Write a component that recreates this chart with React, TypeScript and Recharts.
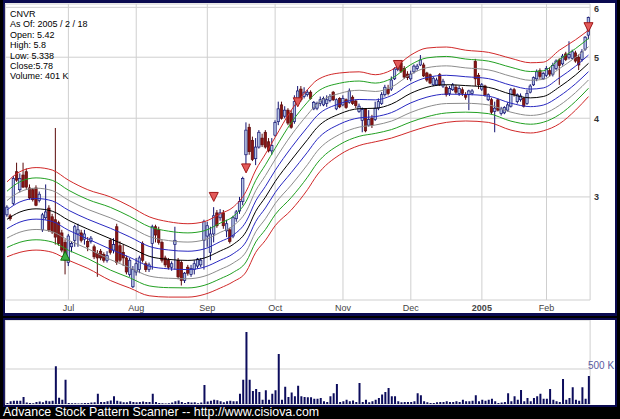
import React from 'react';
import { ComposedChart, BarChart, Bar, Line, XAxis, YAxis, CartesianGrid } from 'recharts';

// ---------- categories ----------
const HOLIDAYS = ['2004-06-11', '2004-07-05', '2004-09-06', '2004-11-25', '2004-12-24', '2005-01-17'];
function tradingDays(): string[] {
  const out: string[] = [];
  for (let t = Date.UTC(2004, 5, 3); t <= Date.UTC(2005, 1, 18); t += 86400000) {
    const d = new Date(t);
    const wd = d.getUTCDay();
    const s = d.toISOString().slice(0, 10);
    if (wd !== 0 && wd !== 6 && HOLIDAYS.indexOf(s) < 0) out.push(s);
  }
  return out;
}
const dates = tradingDays();

const monthTicks = ['2004-07-01', '2004-08-02', '2004-09-01', '2004-10-01', '2004-11-01', '2004-12-01', '2005-01-03', '2005-02-01'];
const monthLabels = ['Jul', 'Aug', 'Sep', 'Oct', 'Nov', 'Dec', '2005', 'Feb'];
const priceTicks = [3, 4, 5, 6];
const volumeTicks = [500];

// ---------- series ----------
const opens = [2.81,2.80,2.93,3.29,3.08,3.25,3.29,3.10,3.08,3.10,2.96,2.66,2.78,2.88,2.79,2.76,2.73,2.63,2.54,2.36,
2.50,2.56,2.62,2.63,2.57,2.55,2.55,2.50,2.44,2.46,2.43,2.38,2.56,2.47,2.69,2.51,2.45,2.40,2.26,2.16,
2.28,2.30,2.53,2.35,2.30,2.53,2.69,2.66,2.54,2.40,2.38,2.32,2.52,2.38,2.36,2.21,2.32,2.26,2.30,2.33,
2.34,2.56,2.60,2.45,2.62,2.83,2.78,2.83,2.65,2.66,2.60,2.77,2.85,2.95,3.50,3.87,3.69,3.45,3.60,3.72,
3.80,3.67,3.55,3.76,3.95,4.20,4.03,4.12,4.07,3.95,4.30,4.45,4.33,4.36,4.40,4.14,4.15,4.22,4.20,4.22,
4.27,4.40,4.14,4.30,4.20,4.28,4.24,4.32,4.26,4.10,3.97,4.13,3.90,4.00,3.98,4.15,4.22,4.36,4.45,4.45,
4.62,4.78,4.90,4.80,4.70,4.62,4.74,4.80,4.86,4.86,4.72,4.69,4.52,4.52,4.69,4.50,4.48,4.38,4.44,4.48,
4.38,4.44,4.36,4.36,4.38,4.92,4.68,4.45,4.50,4.28,4.28,4.10,4.28,4.07,4.08,4.12,4.18,4.44,4.25,4.28,
4.30,4.22,4.40,4.52,4.62,4.76,4.62,4.68,4.76,4.70,4.80,4.95,4.88,5.06,5.00,4.98,5.08,5.00,4.96,5.15,
5.42];
const highs = [2.91,2.82,3.24,3.40,3.27,3.40,3.33,3.14,3.10,3.13,3.06,2.83,3.14,2.91,2.82,3.86,2.75,2.66,2.57,2.62,
2.55,2.71,2.72,2.66,2.66,2.59,2.60,2.52,2.47,2.48,2.45,2.46,2.58,2.58,2.72,2.55,2.52,2.42,2.40,2.33,
2.40,2.42,2.55,2.37,2.36,2.71,2.71,2.69,2.56,2.42,2.40,2.37,2.69,2.40,2.38,2.28,2.34,2.34,2.38,2.40,
2.40,2.76,2.74,2.69,2.89,2.86,2.87,2.86,2.76,2.68,2.80,2.86,3.00,3.23,3.94,3.92,3.74,3.72,3.83,3.78,
3.83,3.72,3.72,3.97,4.25,4.25,4.18,4.15,4.12,4.35,4.50,4.50,4.48,4.44,4.43,4.26,4.25,4.33,4.33,4.35,
4.37,4.42,4.30,4.32,4.35,4.30,4.46,4.35,4.28,4.22,4.16,4.15,4.12,4.05,4.25,4.30,4.40,4.52,4.52,4.66,
4.82,4.93,4.95,4.84,4.75,4.76,4.87,4.88,5.04,4.90,4.74,4.71,4.66,4.64,4.72,4.62,4.52,4.50,4.55,4.52,
4.50,4.48,4.40,4.44,4.45,4.97,4.72,4.55,4.52,4.38,4.31,4.25,4.30,4.17,4.18,4.24,4.47,4.47,4.38,4.38,
4.32,4.44,4.53,4.66,4.78,4.80,4.74,4.84,4.82,4.90,4.96,4.98,5.06,5.10,5.30,5.14,5.12,5.05,5.15,5.40,
5.8];
const lows = [2.79,2.75,2.91,3.17,3.05,3.10,3.09,2.97,2.95,2.90,2.94,2.64,2.76,2.64,2.62,2.52,2.51,2.45,2.26,2.33,
2.45,2.50,2.50,2.54,2.52,2.46,2.53,2.39,2.24,2.38,2.36,2.36,2.43,2.44,2.34,2.36,2.33,2.26,2.24,2.15,
2.25,2.27,2.36,2.28,2.28,2.30,2.54,2.52,2.36,2.32,2.30,2.29,2.30,2.22,2.17,2.19,2.25,2.24,2.26,2.31,
2.32,2.30,2.50,2.38,2.54,2.68,2.75,2.67,2.59,2.53,2.58,2.74,2.82,2.91,3.37,3.50,3.42,3.37,3.58,3.60,
3.58,3.53,3.50,3.74,3.90,3.98,4.00,3.90,3.85,3.92,4.28,4.25,4.30,4.33,4.28,4.12,4.12,4.18,4.18,4.17,
4.24,4.26,4.12,4.15,4.18,4.14,4.22,4.20,4.15,4.08,3.80,3.80,3.88,3.86,3.96,4.12,4.20,4.33,4.35,4.42,
4.60,4.75,4.72,4.62,4.60,4.58,4.71,4.76,4.84,4.65,4.57,4.53,4.50,4.50,4.50,4.47,4.33,4.34,4.42,4.37,
4.34,4.34,4.28,4.12,4.35,4.50,4.45,4.42,4.33,4.26,4.06,3.80,4.10,4.04,4.06,4.10,4.16,4.33,4.22,4.25,
4.16,4.20,4.38,4.50,4.58,4.62,4.60,4.65,4.66,4.66,4.77,4.52,4.85,4.93,4.96,4.96,4.90,4.77,4.92,5.12,
5.338];
const closes = [2.89,2.77,3.21,3.19,3.21,3.11,3.11,2.99,2.97,2.91,3.03,2.81,2.84,2.66,2.64,2.59,2.53,2.47,2.38,2.60,
2.53,2.69,2.66,2.56,2.62,2.50,2.58,2.41,2.40,2.40,2.38,2.42,2.45,2.52,2.36,2.38,2.40,2.28,2.38,2.30,
2.35,2.40,2.38,2.30,2.34,2.69,2.61,2.54,2.38,2.34,2.32,2.35,2.56,2.24,2.21,2.27,2.27,2.31,2.35,2.39,
2.38,2.74,2.70,2.62,2.80,2.70,2.83,2.70,2.72,2.55,2.78,2.84,2.95,3.21,3.83,3.54,3.44,3.60,3.80,3.63,
3.60,3.55,3.62,3.94,4.14,4.00,4.12,3.93,3.87,4.25,4.42,4.28,4.40,4.40,4.30,4.24,4.22,4.28,4.30,4.28,
4.33,4.28,4.28,4.17,4.30,4.16,4.42,4.22,4.19,4.18,4.13,3.82,3.98,3.90,4.15,4.25,4.36,4.48,4.38,4.60,
4.79,4.90,4.75,4.65,4.64,4.70,4.84,4.84,4.95,4.67,4.60,4.55,4.63,4.60,4.52,4.58,4.36,4.46,4.52,4.40,
4.46,4.38,4.32,4.42,4.42,4.62,4.52,4.52,4.36,4.36,4.09,4.15,4.12,4.14,4.16,4.20,4.44,4.36,4.36,4.34,
4.18,4.38,4.50,4.64,4.74,4.66,4.71,4.80,4.70,4.85,4.93,4.85,5.02,4.96,5.05,5.10,4.93,4.86,5.10,5.38,
5.78];
const volumes = [15,40,45,45,45,100,20,15,10,30,35,25,45,40,45,540,90,60,345,15,
10,10,8,10,15,15,20,25,145,30,30,40,50,110,45,35,25,25,40,30,
25,30,35,30,30,145,30,15,10,8,10,20,40,50,30,15,30,20,25,10,
20,270,35,45,60,55,40,25,40,45,40,40,145,345,1030,345,185,215,170,60,
195,60,145,195,715,60,245,100,165,110,260,110,100,95,95,75,75,85,40,30,
110,155,285,30,40,60,40,50,30,300,30,60,25,40,60,85,135,170,230,110,
110,40,25,30,30,30,40,155,125,40,25,15,15,25,30,30,40,30,30,40,
30,60,40,40,45,125,40,60,45,60,75,40,15,20,30,155,40,110,60,200,
40,85,40,85,110,145,75,75,215,60,40,30,357,60,85,240,60,45,240,75,
401];

// envelope bands read at sample days (outer red lines)
const bandIdx = [0,4,9,14,19,25,32,38,44,50,56,61,66,70,74,77,80,83,88,93,96,103,109,114,119,125,130,136,142,149,156,162,166,171,176,180];
const upperBand = [3.17,3.29,3.34,3.31,3.19,3.08,3.00,2.90,2.79,2.74,2.72,2.74,2.82,2.89,3.06,3.31,3.51,3.73,4.12,4.44,4.60,4.72,4.74,4.69,4.77,5.04,5.17,5.19,5.13,5.09,4.98,4.90,4.91,5.13,5.33,5.52];
const lowerBand = [2.41,2.45,2.47,2.45,2.38,2.31,2.21,2.15,2.09,2.08,2.08,2.10,2.15,2.20,2.28,2.45,2.56,2.70,2.86,3.08,3.25,3.50,3.62,3.67,3.72,3.81,3.88,3.94,3.96,3.94,3.83,3.79,3.82,3.92,4.12,4.33];

const sellIdx = [64, 74, 90, 121, 180];
const sellPrice = [3.00, 3.33, 4.24, 4.86, 5.58];
const buyIdx = [18];
const buyPrice = [2.42];

const BAND_COLORS = ['#d02828', '#22a022', '#8c8c8c', '#2828c0', '#000000', '#2828c0', '#8c8c8c', '#22a022', '#d02828'];
const FONT = "'Liberation Sans', Arial, sans-serif";

const rows: any[] = dates.map((date, i) => ({
  date,
  range: [lows[i], highs[i]],
  open: opens[i],
  close: closes[i],
  vol: volumes[i],
}));
bandIdx.forEach((idx, k) => {
  for (let j = 0; j < 9; j++) {
    rows[idx]['b' + j] = Math.exp(Math.log(upperBand[k]) * (1 - j / 8) + Math.log(lowerBand[k]) * (j / 8));
  }
});
sellIdx.forEach((idx, k) => { rows[idx].sell = sellPrice[k]; });
buyIdx.forEach((idx, k) => { rows[idx].buy = buyPrice[k]; });

const Candle = (props: any) => {
  const { x, y, width, height, payload } = props;
  if (!payload || !isFinite(y) || !isFinite(height)) return null;
  const cx = x + width / 2;
  const lo = payload.range[0];
  const hi = payload.range[1];
  const lh = Math.log(hi);
  const ll = Math.log(lo);
  const py = (v: number) => (lh === ll ? y : y + ((lh - Math.log(v)) / (lh - ll)) * height);
  const yo = py(payload.open);
  const yc = py(payload.close);
  const up = payload.close >= payload.open;
  const top = Math.min(yo, yc);
  const bh = Math.max(1, Math.abs(yo - yc));
  return (
    <g>
      <line x1={cx} x2={cx} y1={y} y2={y + height} stroke={up ? '#101070' : '#5a0a0a'} strokeWidth={1} />
      <rect x={cx - 1.2} y={top} width={2.4} height={bh} fill={up ? '#b4c4e4' : '#8a1414'} stroke={up ? '#101070' : '#5a0a0a'} strokeWidth={0.7} />
    </g>
  );
};

const SellMark = (props: any) => {
  const { cx, cy, value } = props;
  if (value == null || !isFinite(cy)) return null;
  return <polygon points={`${cx - 4.5},${cy - 4.5} ${cx + 4.5},${cy - 4.5} ${cx},${cy + 4.5}`} fill="#e25a5a" stroke="#a01818" strokeWidth={1} />;
};
const BuyMark = (props: any) => {
  const { cx, cy, value } = props;
  if (value == null || !isFinite(cy)) return null;
  return <polygon points={`${cx - 4.5},${cy + 4.5} ${cx + 4.5},${cy + 4.5} ${cx},${cy - 4.5}`} fill="#3cb043" stroke="#107010" strokeWidth={1} />;
};

const MonthTick = (p: any) => {
  const idx = monthTicks.indexOf(p.payload.value);
  const lab = idx >= 0 ? monthLabels[idx] : '';
  return (
    <text x={p.x} y={p.y + 8} textAnchor="middle" fontSize={9} fill="#444" fontFamily={FONT} fontWeight={lab === '2005' ? 'bold' : 'normal'}>
      {lab}
    </text>
  );
};
const PriceTick = (p: any) => (
  <text x={p.x} y={p.y + 3.3} textAnchor="start" fontSize={9} fontWeight="bold" fill="#333" fontFamily={FONT}>
    {p.payload.value}
  </text>
);
const VolTick = (p: any) => (
  <text x={p.x + 22} y={p.y} textAnchor="end" fontSize={10} fill="#5a5aa0" fontFamily={FONT}>
    {p.payload.value + ' K'}
  </text>
);

const infoLines = ['CNVR', 'As Of: 2005 / 2 / 18', 'Open: 5.42', 'High: 5.8', 'Low: 5.338', 'Close:5.78', 'Volume: 401 K'];

export default function App() {
  return (
    <div style={{ position: 'relative', width: 620, height: 419, background: '#000', overflow: 'hidden', fontFamily: FONT }}>
      <style>{'html,body{margin:0;padding:0;background:#000}'}</style>
      {/* main panel frame */}
      <div style={{ position: 'absolute', left: 3, top: 0, width: 614, height: 316, background: '#0a0a50' }} />
      <div style={{ position: 'absolute', left: 5, top: 3, width: 610, height: 310, background: '#fff' }} />
      {/* volume panel frame */}
      <div style={{ position: 'absolute', left: 3, top: 318, width: 614, height: 89, background: '#0a0a50' }} />
      <div style={{ position: 'absolute', left: 5, top: 320, width: 610, height: 85, background: '#fff' }} />

      <div style={{ position: 'absolute', left: 0, top: 0 }}>
        <ComposedChart width={620} height={316} data={rows} margin={{ top: 4, right: 0, bottom: 0, left: 5.4 }}>
          <CartesianGrid stroke="#cfcfcf" strokeWidth={1} />
          <XAxis dataKey="date" ticks={monthTicks} interval={0} tick={<MonthTick />} tickSize={0} tickMargin={3} height={16} axisLine={false} tickLine={false} />
          <YAxis orientation="right" scale="log" type="number" domain={[2.058, 6.074]} allowDataOverflow ticks={priceTicks} width={29.9} tick={<PriceTick />} tickSize={0} tickMargin={4} axisLine={false} tickLine={false} />
          {BAND_COLORS.map((c, j) => (
            <Line key={j} dataKey={'b' + j} stroke={c} strokeWidth={1} dot={false} activeDot={false} connectNulls type="monotone" isAnimationActive={false} />
          ))}
          <Bar dataKey="range" barSize={3} shape={(p: any) => <Candle {...p} />} isAnimationActive={false} />
          <Line dataKey="sell" stroke="none" dot={<SellMark />} activeDot={false} isAnimationActive={false} />
          <Line dataKey="buy" stroke="none" dot={<BuyMark />} activeDot={false} isAnimationActive={false} />
        </ComposedChart>
      </div>

      <div style={{ position: 'absolute', left: 10, top: 9, fontSize: 9, lineHeight: '10.4px', color: '#000' }}>
        {infoLines.map((t, i) => (
          <div key={i}>{t}</div>
        ))}
      </div>

      <div style={{ position: 'absolute', left: 0, top: 320 }}>
        <BarChart width={620} height={85} data={rows} margin={{ top: 0, right: 0, bottom: 0, left: 5.4 }}>
          <CartesianGrid stroke="#cfcfcf" strokeWidth={1} />
          <XAxis dataKey="date" ticks={monthTicks} interval={0} tick={false} height={1} axisLine={false} tickLine={false} />
          <YAxis orientation="right" type="number" domain={[0, 1200]} allowDataOverflow ticks={volumeTicks} width={29.9} tick={<VolTick />} tickSize={0} tickMargin={2} axisLine={false} tickLine={false} />
          <Bar dataKey="vol" fill="#0c0c5c" barSize={2} isAnimationActive={false} />
        </BarChart>
      </div>

      <div style={{ position: 'absolute', left: 3, top: 406, color: '#fff', fontSize: 12.4, lineHeight: '13px', whiteSpace: 'nowrap' }}>
        Advance Stock Pattern Scanner -- http://www.cisiova.com
      </div>
    </div>
  );
}
